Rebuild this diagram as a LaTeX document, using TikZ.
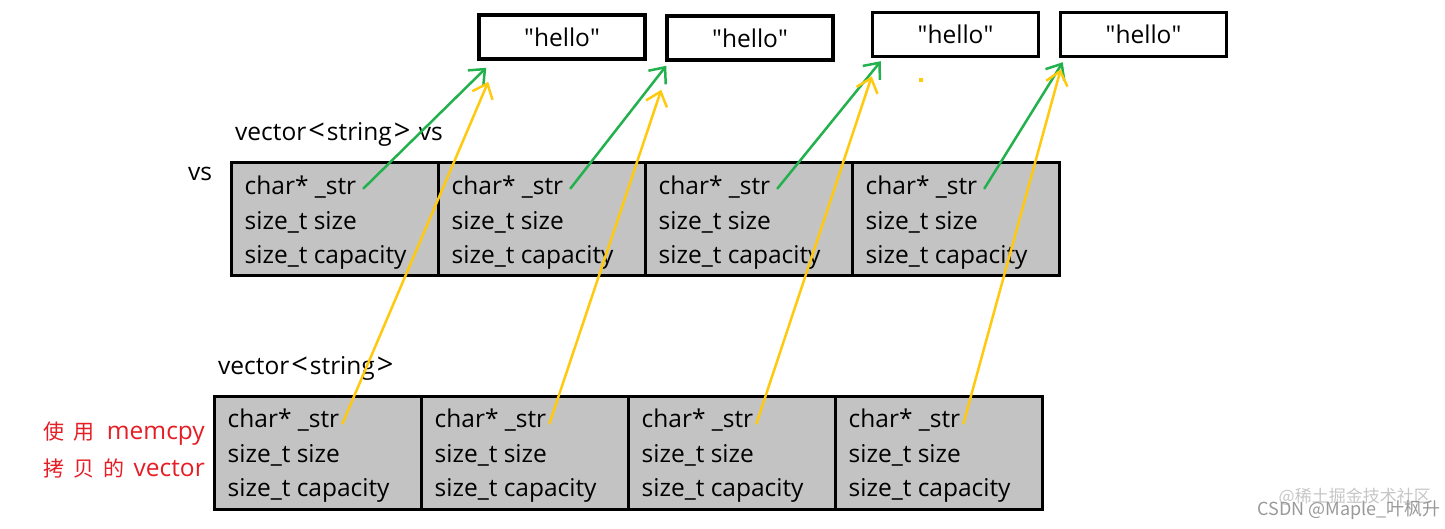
\documentclass[tikz,border=0pt]{standalone}
\usepackage{fontspec}
\setmainfont{Open Sans}
\newfontfamily\cjk{Noto Sans CJK SC}
\usetikzlibrary{positioning, arrows.meta}
\definecolor{cellgray}{RGB}{195,195,195}
\definecolor{ptrgreen}{RGB}{34,177,76}
\definecolor{ptryellow}{RGB}{255,201,14}
\definecolor{notered}{RGB}{228,30,36}
\newcommand{\cellfont}{\fontsize{24.5pt}{35pt}\selectfont}
\newcommand{\angl}[1]{\hspace{2pt}{\fontsize{29pt}{35pt}\selectfont#1}\hspace{2pt}}
\tikzset{
cell/.style={shape=rectangle, minimum width=207pt, minimum height=113pt, inner sep=0, draw, line width=3pt, fill=cellgray}, field/.style={anchor=west, inner sep=0, font=\cellfont}, hello/.style={shape=rectangle, minimum width=166pt, minimum height=44pt, inner sep=0, draw, line width=3.5pt, font=\cellfont}, ptr/.style={line width=2.5pt, line cap=round, -{Straight Barb[length=13pt, width=22pt, line width=2.5pt]}}, note/.style={anchor=east, inner sep=0, text=notered, font=\cellfont}}

\begin{document}
\begin{tikzpicture}[x=1pt, y=-1pt]
\useasboundingbox (0,0) rectangle (1445,529);
% the four strings on the heap
\foreach \hx/\hy [count=\j] in {562/37, 750/38, 955.5/34.5, 1143.5/34.5}{
      \node [hello] at (\hx, \hy) (h-\j) {\textquotedbl hello\textquotedbl};
}
% vs and its memcpy copy
\foreach \j in {1,...,4}{
      \node [cell] at (334.5 + 207 * \j - 207, 219.5) (t-\j) {};
      \node [cell] at (317.5 + 207 * \j - 207, 452.5) (b-\j) {};
      \node [field] at ([xshift=15pt, yshift=-26pt]t-\j.north west) (ts-\j) {char* \_str};
      \node [field] at ([xshift=15pt, yshift=-61pt]t-\j.north west) (tz-\j) {size\_t size};
      \node [field] at ([xshift=15pt, yshift=-96pt]t-\j.north west) (tc-\j) {size\_t capacity};
      \node [field] at ([xshift=15pt, yshift=-26pt]b-\j.north west) (bs-\j) {char* \_str};
      \node [field] at ([xshift=15pt, yshift=-61pt]b-\j.north west) (bz-\j) {size\_t size};
      \node [field] at ([xshift=15pt, yshift=-96pt]b-\j.north west) (bc-\j) {size\_t capacity};
}
\node [field] at (235, 134) (vs-label) {vector\angl{<}string\angl{>} vs};
\node [font=\cellfont, inner sep=0] at (200, 174) (vs-name) {vs};
\node [field] at (218, 368) (copy-label) {vector\angl{<}string\angl{>}};
\node [note] at (205, 434) (note-1) {{\cjk\fontsize{21pt}{35pt}\selectfont 使\hspace{9pt}用}\hspace{12pt}memcpy};
\node [note] at (205, 468) (note-2) {{\cjk\fontsize{21pt}{35pt}\selectfont 拷\hspace{9pt}贝\hspace{9pt}的}\hspace{9pt}vector};
% both copies point at the same strings
\foreach \gx/\gy/\yx/\yy [count=\j] in {9/7/11/21, 1/4/-4/28, 10/3/1/18, 4/4/2/11}{
      \coordinate (g-\j) at ([shift={(\gx, \gy)}]h-\j.south west);
      \coordinate (y-\j) at ([shift={(\yx, \yy)}]h-\j.south west);
      \draw [ptr, ptrgreen] ([xshift=7pt, yshift=-1pt]ts-\j.east) -- (g-\j);
      \draw [ptr, ptryellow] ([xshift=3pt, yshift=-3pt]bs-\j.east) -- (y-\j);
}
\fill [ptryellow] (919, 78) rectangle (923, 82);
\node [anchor=east, inner sep=0, text=gray!45, font=\cjk\fontsize{17pt}{20pt}\selectfont] at (1431, 497) (wm-1) {@稀土掘金技术社区};
\node [anchor=east, inner sep=0, text=gray!80, font=\cjk\fontsize{18pt}{20pt}\selectfont] at (1441, 510) (wm-2) {CSDN @Maple\_叶枫升};
\end{tikzpicture}
\end{document}
